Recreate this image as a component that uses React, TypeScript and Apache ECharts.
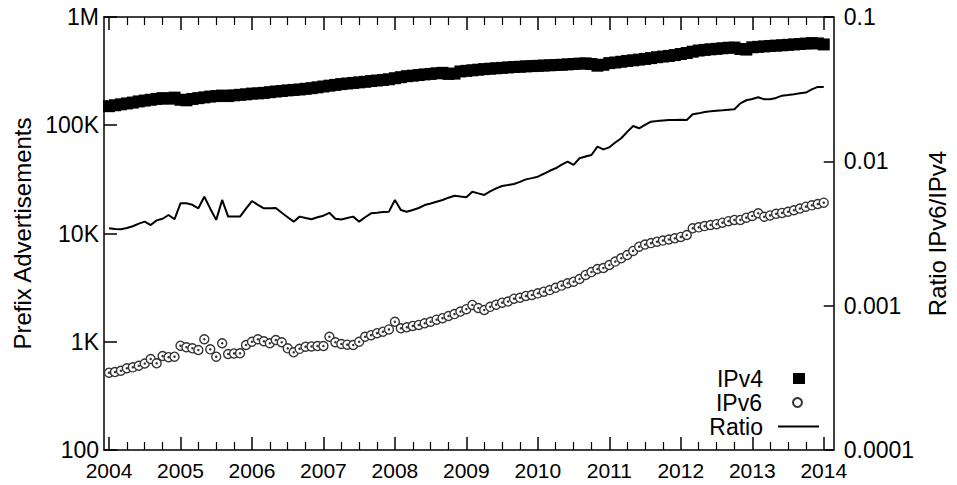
import React, { useEffect, useRef } from "react";
import * as echarts from "echarts";

// ---- Data ----
const START_YEAR = 2004;
const YEAR_TICKS = [2004, 2005, 2006, 2007, 2008, 2009, 2010, 2011, 2012, 2013, 2014];
const LEFT_TICK_LABELS = ["100", "1K", "10K", "100K", "1M"]; // 10^2 .. 10^6
const RIGHT_TICK_LABELS = ["0.0001", "0.001", "0.01", "0.1"]; // 10^-4 .. 10^-1

// monthly, Jan 2004 .. Jan 2014 (in thousands)
const ipv4K = [
  150, 153, 156, 159, 162, 166, 169, 172, 175, 178, 176, 180,
  172, 170, 175, 178, 181, 184, 186, 188, 186, 189, 191, 193,
  196, 197, 199, 202, 205, 207, 210, 212, 214, 217, 220, 224,
  228, 232, 236, 240, 243, 246, 249, 252, 256, 259, 262, 266,
  272, 278, 284, 287, 291, 295, 298, 302, 305, 298, 300, 314,
  318, 322, 326, 330, 333, 336, 339, 342, 345, 347, 350, 352,
  354, 356, 358, 360, 362, 365, 368, 371, 373, 368, 355, 362,
  375, 380, 386, 393, 398, 404, 410, 417, 425, 431, 437, 445,
  455, 465, 478, 490, 497, 503, 508, 514, 520, 522, 506, 500,
  525, 530, 535, 540, 544, 548, 553, 558, 563, 568, 574, 570,
  558,
];

const ipv6 = [
  518, 525, 540, 569, 580, 600, 630, 693, 632, 738, 720, 728,
  920, 889, 870, 839, 1054, 851, 728, 968, 771, 780, 782, 933,
  1000, 1054, 1010, 968, 1038, 990, 869, 799, 860, 900, 905, 914,
  914, 1113, 990, 953, 940, 933, 1000, 1113, 1150, 1200, 1239, 1300,
  1531, 1331, 1360, 1400, 1430, 1480, 1530, 1600, 1650, 1729, 1800, 1900,
  2000, 2187, 2050, 1965, 2100, 2200, 2296, 2350, 2500, 2550, 2650, 2704,
  2800, 2899, 3000, 3150, 3300, 3467, 3589, 3800, 4140, 4400, 4700, 4800,
  5117, 5500, 5900, 6327, 6900, 7551, 7900, 8150, 8398, 8600, 8800, 9030,
  9300, 9685, 11170, 11400, 11700, 11990, 12200, 12600, 13000, 13340, 13340, 14000,
  14500, 15380, 14290, 14700, 15200, 15500, 15890, 16400, 17000, 17700, 18200, 18700,
  19270,
];

const ratio = [
  0.00344, 0.0034, 0.00338, 0.00345, 0.00355, 0.0037, 0.00382, 0.00362, 0.0039, 0.004, 0.00425, 0.00397,
  0.00512, 0.00512, 0.005, 0.00473, 0.00569, 0.0047, 0.00393, 0.0054, 0.00414, 0.00414, 0.00414, 0.0047,
  0.00531, 0.005, 0.00473, 0.00473, 0.00475, 0.0044, 0.0041, 0.00382, 0.00414, 0.00405, 0.00397, 0.0041,
  0.0042, 0.0044, 0.004, 0.00395, 0.00405, 0.00414, 0.00382, 0.0041, 0.00436, 0.0044, 0.00445, 0.00448,
  0.0054, 0.0046, 0.00448, 0.0046, 0.00475, 0.00498, 0.0051, 0.00525, 0.0054, 0.0056, 0.00578, 0.0057,
  0.00564, 0.00616, 0.006, 0.00585, 0.0062, 0.0065, 0.00675, 0.00685, 0.00697, 0.0072, 0.0075, 0.00765,
  0.00783, 0.0082, 0.0086, 0.00895, 0.0095, 0.00995, 0.00944, 0.0105, 0.0108, 0.01107, 0.01263, 0.0121,
  0.0125, 0.0135, 0.01445, 0.016, 0.01758, 0.01694, 0.0179, 0.01884, 0.019, 0.0192, 0.01933, 0.01933,
  0.0194, 0.01933, 0.02117, 0.0215, 0.022, 0.0222, 0.02243, 0.0226, 0.0228, 0.02293, 0.02522, 0.0265,
  0.027, 0.02777, 0.02691, 0.02691, 0.0275, 0.0285, 0.02884, 0.0292, 0.0296, 0.02993, 0.0315, 0.0328,
  0.0327,
];

// month positions (decimal years) – the category axis
const months: number[] = ipv4K.map((_, i) => START_YEAR + i / 12);
const quarterTicks: number[] = [];
for (let y = 2004; y < 2014; y++) quarterTicks.push(y + 0.25, y + 0.5, y + 0.75);

const FONT = "Liberation Sans, Arial, Helvetica, sans-serif";
const INK = "#000";

export default function App() {
  const ref = useRef<HTMLDivElement>(null);

  useEffect(() => {
    if (!ref.current) return;
    const chart = echarts.init(ref.current, undefined, { renderer: "svg" });

    const xBase = {
      type: "value" as const,
      min: 2003.93,
      max: 2014.14,
      splitLine: { show: false },
    };

    const legendText = (padRight: number) => ({
      fontSize: 23,
      lineHeight: 22,
      color: INK,
      fontFamily: FONT,
      padding: [0, padRight, 0, 0],
    });

    const option: any = {
      animation: false,
      textStyle: { fontFamily: FONT, color: INK },
      grid: { left: 104, right: 110, top: 17, bottom: 35, containLabel: false },
      xAxis: [
        {
          ...xBase,
          position: "bottom",
          axisLine: { show: true, lineStyle: { color: INK, width: 1.5 } },
          axisTick: { show: true, inside: true, length: 13, customValues: YEAR_TICKS, lineStyle: { color: INK, width: 1.5 } },
          axisLabel: { show: true, customValues: YEAR_TICKS, fontSize: 21, color: INK, margin: 10, fontFamily: FONT, formatter: (v: number) => String(Math.round(v)) },
        },
        {
          ...xBase,
          position: "bottom",
          axisLine: { show: false },
          axisTick: { show: true, inside: true, length: 8, customValues: quarterTicks, lineStyle: { color: INK, width: 1.2 } },
          axisLabel: { show: false },
        },
        {
          ...xBase,
          position: "top",
          axisLine: { show: true, lineStyle: { color: INK, width: 1.5 } },
          axisTick: { show: true, inside: true, length: 13, customValues: YEAR_TICKS, lineStyle: { color: INK, width: 1.5 } },
          axisLabel: { show: false },
        },
        {
          ...xBase,
          position: "top",
          axisLine: { show: false },
          axisTick: { show: true, inside: true, length: 8, customValues: quarterTicks, lineStyle: { color: INK, width: 1.2 } },
          axisLabel: { show: false },
        },
      ],
      yAxis: [
        {
          type: "log",
          logBase: 10,
          min: 100,
          max: 1000000,
          position: "left",
          name: "Prefix Advertisements",
          nameLocation: "middle",
          nameRotate: 90,
          nameGap: 70,
          nameTextStyle: { fontSize: 24, color: INK, fontFamily: FONT },
          splitLine: { show: false },
          axisLine: { show: true, lineStyle: { color: INK, width: 1.5 } },
          axisTick: { show: true, inside: true, length: 13, lineStyle: { color: INK, width: 1.5 } },
          axisLabel: {
            fontSize: 23,
            color: INK,
            margin: 5,
            fontFamily: FONT,
            formatter: (v: number) => LEFT_TICK_LABELS[Math.round(Math.log10(v)) - 2] ?? "",
          },
        },
        {
          type: "log",
          logBase: 10,
          min: 0.0001,
          max: 0.1,
          position: "right",
          name: "Ratio IPv6/IPv4",
          nameLocation: "middle",
          nameRotate: 90,
          nameGap: 76,
          nameTextStyle: { fontSize: 24, color: INK, fontFamily: FONT },
          splitLine: { show: false },
          axisLine: { show: true, lineStyle: { color: INK, width: 1.5 } },
          axisTick: { show: true, inside: true, length: 10, lineStyle: { color: INK, width: 1.5 } },
          axisLabel: {
            fontSize: 23,
            color: INK,
            margin: 10,
            fontFamily: FONT,
            formatter: (v: number) => RIGHT_TICK_LABELS[Math.round(Math.log10(v)) + 4] ?? "",
          },
        },
      ],
      legend: [
        {
          data: [{ name: "IPv4", icon: "rect" }],
          right: 152,
          top: 367,
          padding: 0,
          align: "right",
          itemWidth: 12,
          itemHeight: 11,
          selectedMode: false,
          textStyle: legendText(25),
        },
        {
          data: ["IPv6"],
          right: 154,
          top: 391,
          padding: 0,
          align: "right",
          itemWidth: 9,
          itemHeight: 9,
          selectedMode: false,
          textStyle: legendText(26),
        },
        {
          data: [{ name: "Ratio", icon: "rect" }],
          right: 138,
          top: 415,
          padding: 0,
          align: "right",
          itemWidth: 41,
          itemHeight: 2,
          selectedMode: false,
          textStyle: legendText(10),
        },
      ],
      series: [
        {
          name: "IPv4",
          type: "scatter",
          xAxisIndex: 0,
          yAxisIndex: 0,
          symbol: "rect",
          symbolSize: [12, 12],
          itemStyle: { color: INK, opacity: 1 },
          data: months.map((m, i) => [m, ipv4K[i] * 1000]),
        },
        {
          name: "IPv6",
          type: "scatter",
          xAxisIndex: 0,
          yAxisIndex: 0,
          symbol: "circle",
          symbolSize: 9,
          itemStyle: { color: "#fff", borderColor: "#333", borderWidth: 1.4, opacity: 1 },
          data: months.map((m, i) => [m, ipv6[i]]),
        },
        {
          name: "IPv6 centre",
          type: "scatter",
          xAxisIndex: 0,
          yAxisIndex: 0,
          symbol: "circle",
          symbolSize: 2.5,
          silent: true,
          itemStyle: { color: "#333", opacity: 1 },
          data: months.map((m, i) => [m, ipv6[i]]),
        },
        {
          name: "Ratio",
          type: "line",
          xAxisIndex: 0,
          yAxisIndex: 1,
          symbol: "none",
          showSymbol: false,
          lineStyle: { color: INK, width: 2 },
          itemStyle: { color: INK },
          data: months.map((m, i) => [m, ratio[i]]),
        },
      ],
    };

    chart.setOption(option);
    return () => chart.dispose();
  }, []);

  return <div ref={ref} style={{ width: 957, height: 485, position: "absolute", left: 0, top: 0 }} />;
}
